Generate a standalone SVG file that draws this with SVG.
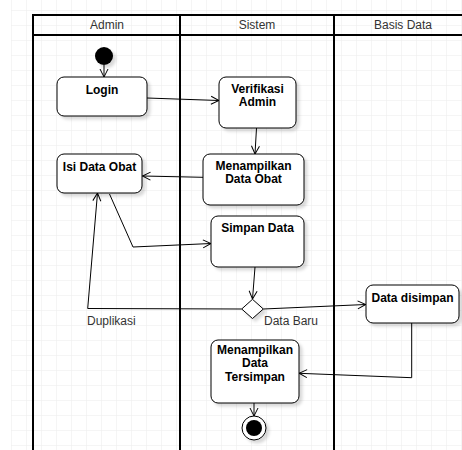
<svg xmlns="http://www.w3.org/2000/svg" width="462" height="450" viewBox="0 0 462 450">
<defs>
<pattern id="grid" x="11" y="10" width="15" height="15" patternUnits="userSpaceOnUse">
<path d="M0,0 H15 M0,0 V15" fill="none" stroke="#ebebeb" stroke-width="1"/>
</pattern>
<filter id="sh" x="-20%" y="-20%" width="150%" height="150%">
<feDropShadow dx="3" dy="3" stdDeviation="1.5" flood-color="#000" flood-opacity="0.15"/>
</filter>
<marker id="arr" markerWidth="10" markerHeight="10" refX="9" refY="5" orient="auto" markerUnits="userSpaceOnUse">
<path d="M1,1 L9,5 L1,9" fill="none" stroke="#000" stroke-width="1"/>
</marker>
<style>
.node{fill:#fff;stroke:#000;stroke-width:1;filter:url(#sh)}
.lbl{font-family:"Liberation Sans",Arial,sans-serif;font-size:12px;font-weight:bold;fill:#000;text-anchor:middle}
.hdr{font-family:"Liberation Sans",Arial,sans-serif;font-size:12px;fill:#333;text-anchor:middle}
.el{font-family:"Liberation Sans",Arial,sans-serif;font-size:12px;fill:#333}
.lane{fill:none;stroke:#000;stroke-width:2}
.edge{fill:none;stroke:#000;stroke-width:1;marker-end:url(#arr)}
</style>
</defs>
<rect x="0" y="0" width="462" height="450" fill="#fff"/>
<rect x="11" y="0" width="451" height="450" fill="url(#grid)"/>

<g id="swimlanes">
<line class="lane" x1="33" y1="15" x2="472" y2="15"/>
<line class="lane" x1="33" y1="35" x2="472" y2="35"/>
<line class="lane" x1="33" y1="14" x2="33" y2="450"/>
<line class="lane" x1="180" y1="14" x2="180" y2="450"/>
<line class="lane" x1="334" y1="14" x2="334" y2="450"/>
<text class="hdr" x="107" y="29">Admin</text>
<text class="hdr" x="257" y="29">Sistem</text>
<text class="hdr" x="403" y="29">Basis Data</text>
</g>

<g id="connectors">
<path class="edge" d="M104,65 L104,77"/>
<path class="edge" d="M147,98 L219,100.5"/>
<path class="edge" d="M256.5,128 L255,154"/>
<path class="edge" d="M203,177.3 L142.5,176"/>
<path class="edge" d="M109.5,194 L133,247 L211,243.5"/>
<path class="edge" d="M255,267 L252.5,299"/>
<path class="edge" d="M241.7,309 L87.7,308.5 L97.5,193"/>
<path class="edge" d="M263.3,309 L365.7,304.5"/>
<path class="edge" d="M411.7,323 L411.7,377.7 L299,373.3"/>
<path class="edge" d="M254,403 L254,416"/>
<text class="el" x="87" y="325">Duplikasi</text>
<text class="el" x="264" y="325">Data Baru</text>
</g>

<g id="start">
<circle cx="104" cy="56" r="9" fill="#000" filter="url(#sh)"/>
</g>

<g id="login">
<rect class="node" x="57" y="77" width="90" height="39" rx="7"/>
<text class="lbl" x="102" y="94">Login</text>
</g>

<g id="verifikasi">
<rect class="node" x="219" y="77" width="77" height="51" rx="7"/>
<text class="lbl" x="257.5" y="92.5"><tspan x="257.5" y="92.5">Verifikasi</tspan><tspan x="257.5" y="106">Admin</tspan></text>
</g>

<g id="menampilkan-data-obat">
<rect class="node" x="203" y="154" width="101" height="51" rx="7"/>
<text class="lbl" x="253.5" y="169.5"><tspan x="253.5" y="169.5">Menampilkan</tspan><tspan x="253.5" y="183">Data Obat</tspan></text>
</g>

<g id="isi-data-obat">
<rect class="node" x="57" y="154" width="85" height="39" rx="7"/>
<text class="lbl" x="99.5" y="171">Isi Data Obat</text>
</g>

<g id="simpan-data">
<rect class="node" x="211" y="216" width="93" height="51" rx="7"/>
<text class="lbl" x="257.5" y="232">Simpan Data</text>
</g>

<g id="decision">
<path class="node" d="M252.5,299.3 L263.3,309 L252.5,318.5 L241.7,309 Z"/>
</g>

<g id="data-disimpan">
<rect class="node" x="366" y="285" width="93" height="38" rx="7"/>
<text class="lbl" x="412.5" y="302">Data disimpan</text>
</g>

<g id="menampilkan-data-tersimpan">
<rect class="node" x="211" y="340" width="88" height="63" rx="7"/>
<text class="lbl" x="255" y="353.8"><tspan x="255" y="353.8">Menampilkan</tspan><tspan x="255" y="367.3">Data</tspan><tspan x="255" y="380.8">Tersimpan</tspan></text>
</g>

<g id="end">
<circle cx="254" cy="428" r="12" fill="#fff" stroke="#000" stroke-width="1" filter="url(#sh)"/>
<circle cx="254" cy="428" r="8" fill="#000"/>
</g>
</svg>
